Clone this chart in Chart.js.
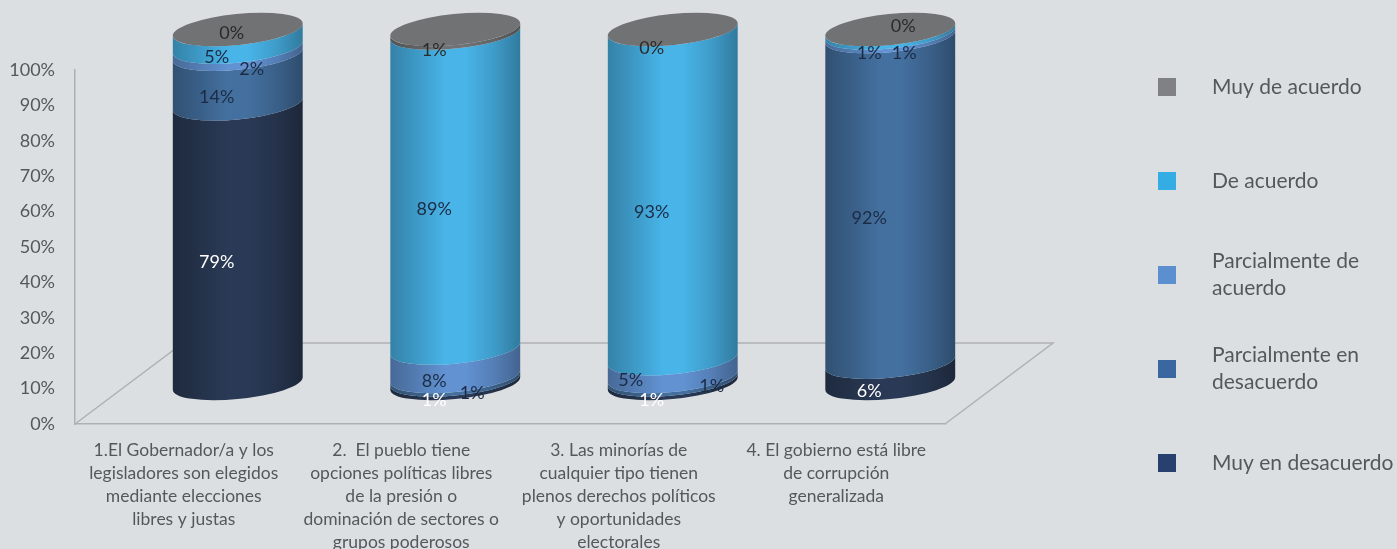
<!DOCTYPE html>
<html lang="es">
<head>
<meta charset="utf-8">
<title>Percepción sobre derechos políticos</title>
<script src="https://cdn.jsdelivr.net/npm/chart.js@4"></script>
<style>
    html, body { margin: 0; padding: 0; background: #dcdfe2; }
    canvas { display: block; }
</style>
</head>
<body>
<canvas id="grafico" width="1397" height="549"></canvas>
<script>
// Datos
const categorias = [
    ['1.El Gobernador/a y los', 'legisladores son elegidos', 'mediante elecciones', 'libres y justas'],
    ['2.  El pueblo tiene', 'opciones políticas libres', 'de la presión o', 'dominación de sectores o', 'grupos poderosos'],
    ['3. Las minorías de', 'cualquier tipo tienen', 'plenos derechos políticos', 'y oportunidades', 'electorales'],
    ['4. El gobierno está libre', 'de corrupción', 'generalizada']
];
const muyEnDesacuerdo = [79, 1, 1, 6];
const parcialEnDesacuerdo = [14, 1, 1, 92];
const parcialDeAcuerdo = [2, 8, 5, 1];
const deAcuerdo = [5, 89, 93, 1];
const muyDeAcuerdo = [0, 1, 0, 0];

const nombresSeries = ['Muy en desacuerdo', 'Parcialmente en desacuerdo', 'Parcialmente de acuerdo', 'De acuerdo', 'Muy de acuerdo'];
const valoresSeries = [muyEnDesacuerdo, parcialEnDesacuerdo, parcialDeAcuerdo, deAcuerdo, muyDeAcuerdo];

// Colores: leyenda y cuerpo del cilindro no son exactamente iguales en el original
const coloresLeyenda = ['#27406f', '#3a679f', '#5b8fd0', '#33ade4', '#808184'];
const coloresCilindro = ['#2a3a56', '#44709f', '#6292d2', '#48b4e8', '#717274'];
const coloresEtiqueta = ['#ffffff', '#1c2b45', '#1c2b45', '#1c2b45', '#2b2b2b'];

// Ajustes a mano de etiquetas: serie, columna, dx, dy
const ajustesEtiquetas = [
    [4, 0, 15, -15],
    [2, 0, 35, 0],
    [1, 1, 38, -4],
    [1, 2, 60, -11],
    [2, 2, -21, -6],
    [3, 3, 35, 3],
    [4, 3, 34, -22]
];

const fuente = 'Lato, "Noto Sans", sans-serif';
const colorTexto = '#54585d';
const colorLinea = '#aeb1b4';

// Profundidad del piso 3D; los cilindros van a la mitad
const pisoDx = 108;
const pisoDy = 81;
const inclinacion = -0.1;
const semiEjeMenor = 15.5;

function oscurecer(hex, f) {
    const n = parseInt(hex.slice(1), 16);
    const r = Math.round(((n >> 16) & 255) * f);
    const g = Math.round(((n >> 8) & 255) * f);
    const b = Math.round((n & 255) * f);
    return `rgb(${r}, ${g}, ${b})`;
}

function degradado(ctx, cx, a, color) {
    const g = ctx.createLinearGradient(cx - a, 0, cx + a, 0);
    g.addColorStop(0, oscurecer(color, 0.72));
    g.addColorStop(0.22, oscurecer(color, 0.86));
    g.addColorStop(0.42, color);
    g.addColorStop(0.58, color);
    g.addColorStop(0.8, oscurecer(color, 0.86));
    g.addColorStop(1, oscurecer(color, 0.68));
    return g;
}

// Piso en perspectiva, detrás de los cilindros
function dibujarPiso(chart) {
    const { ctx, chartArea: area } = chart;
    ctx.save();
    ctx.strokeStyle = colorLinea;
    ctx.lineWidth = 1.5;
    ctx.beginPath();
    ctx.moveTo(area.left, area.bottom);
    ctx.lineTo(area.left + pisoDx, area.bottom - pisoDy);
    ctx.lineTo(area.right + pisoDx, area.bottom - pisoDy);
    ctx.lineTo(area.right, area.bottom);
    ctx.stroke();
    ctx.restore();
}

// Cada tramo del cilindro sale de la barra apilada que calculó Chart.js
function dibujarCilindros(chart) {
    const { ctx } = chart;
    const dx = pisoDx / 2;
    const dy = pisoDy / 2;
    const t0 = Math.atan(-(semiEjeMenor / 65) * Math.tan(inclinacion));

    categorias.forEach((cat, col) => {
        let ultimo = null;
        valoresSeries.forEach((serie, s) => {
            const el = chart.getDatasetMeta(s).data[col];
            const cx = el.x + dx;
            const a = el.width / 2;
            ultimo = { cx, a, y: el.y - dy };
            if (!serie[col]) return;
            ctx.beginPath();
            ctx.ellipse(cx, el.base - dy, a, semiEjeMenor, inclinacion, t0, t0 + Math.PI, false);
            ctx.ellipse(cx, el.y - dy, a, semiEjeMenor, inclinacion, t0 + Math.PI, t0, true);
            ctx.closePath();
            ctx.fillStyle = degradado(ctx, cx, a, coloresCilindro[s]);
            ctx.fill();
        });
        // Tapa superior
        ctx.beginPath();
        ctx.ellipse(ultimo.cx, ultimo.y, ultimo.a, semiEjeMenor, inclinacion, 0, Math.PI * 2);
        ctx.fillStyle = coloresCilindro[coloresCilindro.length - 1];
        ctx.fill();
    });
}

function dibujarEtiquetas(chart) {
    const { ctx } = chart;
    ctx.save();
    ctx.font = '18px ' + fuente;
    ctx.textAlign = 'center';
    ctx.textBaseline = 'middle';
    valoresSeries.forEach((serie, s) => {
        chart.getDatasetMeta(s).data.forEach((el, col) => {
            const ajuste = ajustesEtiquetas.find(a => a[0] === s && a[1] === col) || [s, col, 0, 0];
            const x = el.x + pisoDx / 2 - 21 + ajuste[2];
            const y = (el.y + el.base) / 2 - pisoDy / 2 + 18.5 + ajuste[3];
            ctx.fillStyle = coloresEtiqueta[s];
            ctx.fillText(serie[col] + '%', x, y);
        });
    });
    ctx.restore();
}

// Leyenda a la derecha, con texto en dos renglones y filas parejas
function dibujarLeyenda(chart) {
    const { ctx } = chart;
    const filas = [
        ['Muy de acuerdo'],
        ['De acuerdo'],
        ['Parcialmente de', 'acuerdo'],
        ['Parcialmente en', 'desacuerdo'],
        ['Muy en desacuerdo']
    ];
    ctx.save();
    ctx.font = '21px ' + fuente;
    ctx.textBaseline = 'middle';
    filas.forEach((lineas, i) => {
        const s = filas.length - 1 - i;
        const yc = 87 + i * 94;
        ctx.fillStyle = coloresLeyenda[s];
        ctx.fillRect(1158, yc - 9, 18, 18);
        ctx.fillStyle = colorTexto;
        lineas.forEach((t, k) => {
            ctx.fillText(t, 1212, yc + (k - (lineas.length - 1) / 2) * 27);
        });
    });
    ctx.restore();
}

const cilindros3d = {
    id: 'cilindros3d',
    beforeDatasetsDraw(chart) {
        dibujarPiso(chart);
        dibujarCilindros(chart);
        dibujarEtiquetas(chart);
        dibujarLeyenda(chart);
        return false; // las barras planas no se pintan
    }
};

const datasets = nombresSeries.map((nombre, i) => ({
    label: nombre,
    data: valoresSeries[i],
    backgroundColor: coloresLeyenda[i],
    categoryPercentage: 1,
    barPercentage: 0.6
}));

new Chart(document.getElementById('grafico'), {
    type: 'bar',
    data: { labels: categorias, datasets: datasets },
    plugins: [cilindros3d],
    options: {
        responsive: false,
        animation: false,
        layout: { padding: { top: 70, right: 452, bottom: 0, left: 0 } },
        plugins: {
            legend: { display: false },
            tooltip: { enabled: false },
            title: { display: false }
        },
        scales: {
            x: {
                stacked: true,
                afterFit: scale => { scale.height = 125; },
                grid: { display: false },
                border: { display: true, color: colorLinea, width: 1.5 },
                ticks: {
                    color: colorTexto,
                    font: { family: fuente, size: 17.5, lineHeight: 1.314 },
                    maxRotation: 0,
                    autoSkip: false,
                    padding: 7
                }
            },
            y: {
                stacked: true,
                min: 0,
                max: 100,
                afterFit: scale => { scale.width = 75; },
                grid: { display: false },
                border: { display: true, color: colorLinea, width: 1.5 },
                ticks: {
                    stepSize: 10,
                    color: colorTexto,
                    font: { family: fuente, size: 18 },
                    padding: 12,
                    callback: value => value + '%'
                }
            }
        }
    }
});
</script>
</body>
</html>
